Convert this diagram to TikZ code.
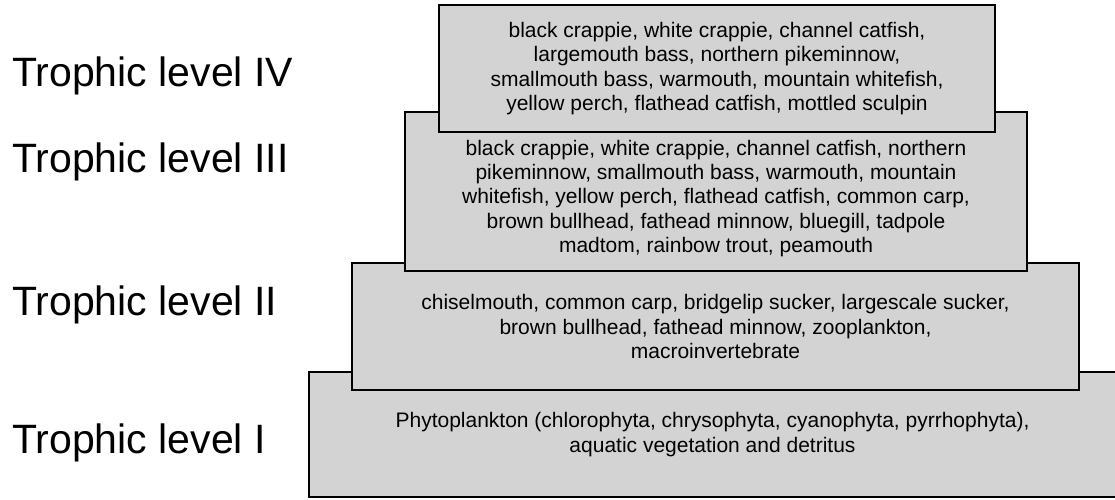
\documentclass[tikz,border=0pt]{standalone}
\usepackage{fontspec}
\setmainfont{Liberation Sans}
\usetikzlibrary{positioning}
\definecolor{boxgray}{RGB}{211,211,211}

\tikzset{
  levelbox/.style={draw=black, line width=1.8pt, fill=boxgray, inner sep=0pt},
  leveltext/.style={align=center, inner sep=0pt, font=\fontsize{21}{24.3}\selectfont},
  levellabel/.style={anchor=base west, inner sep=0pt, font=\fontsize{41}{48}\selectfont}
}

\begin{document}
\begin{tikzpicture}[x=1pt,y=-1pt]
  \clip (0,0) rectangle (1115,500);
  % boxes, bottom level first so the upper ones lie on top
  \node[levelbox, minimum width=807pt, minimum height=125pt] (boxI) at (712.5,434.5) {};
  \node[leveltext] (textI) at (boxI.center)
    {Phytoplankton (chlorophyta, chrysophyta, cyanophyta, pyrrhophyta),\\
     aquatic vegetation and detritus};
  \node[levelbox, minimum width=727pt, minimum height=127pt] (boxII) at (715.5,326.5) {};
  \node[leveltext] (textII) at (boxII.center)
    {chiselmouth, common carp, bridgelip sucker, largescale sucker,\\
     brown bullhead, fathead minnow, zooplankton,\\
     macroinvertebrate};
  \node[levelbox, minimum width=622pt, minimum height=159pt] (boxIII) at (716,191.5) {};
  \node[leveltext, yshift=-7pt] (textIII) at (boxIII.center)
    {black crappie, white crappie, channel catfish, northern\\
     pikeminnow, smallmouth bass, warmouth, mountain\\
     whitefish, yellow perch, flathead catfish, common carp,\\
     brown bullhead, fathead minnow, bluegill, tadpole\\
     madtom, rainbow trout, peamouth};
  \node[levelbox, minimum width=556pt, minimum height=127pt] (boxIV) at (717,68.5) {};
  \node[leveltext] (textIV) at (boxIV.center)
    {black crappie, white crappie, channel catfish,\\
     largemouth bass, northern pikeminnow,\\
     smallmouth bass, warmouth, mountain whitefish,\\
     yellow perch, flathead catfish, mottled sculpin};
  % level names
  \node[levellabel] (lblIV) at (12,87) {Trophic level IV};
  \node[levellabel] (lblIII) at (12,172) {Trophic level III};
  \node[levellabel] (lblII) at (12,315) {Trophic level II};
  \node[levellabel] (lblI) at (12,453) {Trophic level I};
\end{tikzpicture}
\end{document}
